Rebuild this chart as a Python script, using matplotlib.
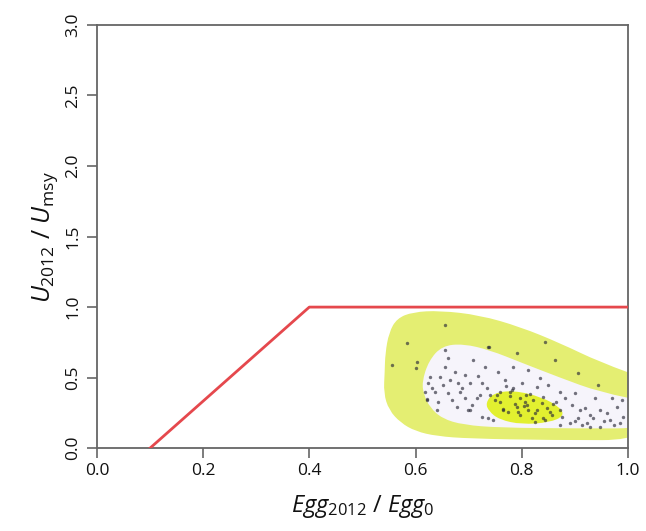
import matplotlib
matplotlib.use("Agg")
import matplotlib.pyplot as plt
from matplotlib.path import Path
from matplotlib.patches import PathPatch

# Harvest control rule (reference line)
hcr_x = [0.1, 0.4, 1.0]
hcr_y = [0.0, 1.0, 1.0]

# Outer contour (yellow band outer edge)
outer_x = [0.542, 0.540, 0.550, 0.572, 0.600, 0.640, 0.702, 0.853, 1.05, 1.05,
           0.947, 0.872, 0.797, 0.721, 0.646, 0.595, 0.565, 0.550, 0.543]
outer_y = [0.54, 0.39, 0.27, 0.18, 0.12, 0.085, 0.068, 0.057, 0.057, 0.47,
           0.61, 0.745, 0.86, 0.943, 0.975, 0.965, 0.92, 0.82, 0.67]

# Middle contour (white region)
mid_x = [0.612, 0.616, 0.627, 0.650, 0.690, 0.760, 0.900, 1.05, 1.05, 0.947,
         0.872, 0.797, 0.740, 0.690, 0.650, 0.625]
mid_y = [0.468, 0.376, 0.290, 0.210, 0.165, 0.145, 0.140, 0.140, 0.32, 0.397,
         0.50, 0.61, 0.695, 0.740, 0.725, 0.620]

# Inner contour (bright core)
core_x = [0.732, 0.746, 0.785, 0.838, 0.872, 0.880, 0.852, 0.800, 0.758, 0.738]
core_y = [0.320, 0.390, 0.410, 0.362, 0.290, 0.228, 0.182, 0.168, 0.202, 0.262]

# posterior draws (pixel positions)
pts_px = [489, 417, 416, 445, 448, 473, 485, 445, 430, 440, 450, 465, 428, 443,
          460, 470, 482, 487, 435, 448, 427, 465, 477, 490, 500, 510, 513, 495,
          482, 488, 493, 457, 472, 438, 517, 545, 555, 578, 598, 513, 528, 522,
          537, 560, 543, 512, 520, 525, 533, 542, 517, 528, 537, 547, 520, 532,
          543, 552, 560, 562, 572, 580, 585, 578, 582, 587, 593, 600, 607, 610,
          617, 623, 570, 560, 600, 590, 622, 445, 407, 488, 392, 427, 497, 500,
          506, 515, 524, 535, 553, 508, 503, 620, 612, 455, 462, 478, 432, 452,
          468, 505, 498, 540, 548, 556, 565, 575, 595, 604, 614, 575, 590, 530,
          518, 527, 550, 545, 535, 526, 510, 503, 480, 470, 458, 437, 425]
pts_py = [347, 362, 368, 350, 358, 360, 367, 367, 377, 377, 380, 375, 383, 385,
          392, 383, 383, 388, 392, 393, 399, 398, 398, 395, 392, 392, 388, 400,
          417, 418, 420, 407, 405, 402, 353, 342, 360, 373, 385, 367, 370, 383,
          387, 392, 397, 390, 398, 402, 400, 403, 407, 410, 410, 408, 415, 418,
          418, 415, 410, 417, 405, 410, 408, 418, 425, 423, 418, 410, 413, 420,
          407, 417, 423, 425, 427, 427, 400, 325, 343, 347, 365, 400, 395, 402,
          386, 404, 406, 413, 404, 412, 409, 423, 398, 372, 388, 376, 388, 400,
          410, 380, 372, 378, 385, 402, 398, 393, 398, 421, 425, 421, 415, 394,
          412, 405, 412, 420, 422, 395, 396, 410, 395, 410, 383, 410, 392]
pts_x = [(p - 97) / 531 for p in pts_px]
pts_y = [(448 - p) / 141 for p in pts_py]


def smooth_path(xs, ys):
    # closed quadratic-bezier path through the edge midpoints
    pts = list(zip(xs, ys))
    n = len(pts)
    mids = [((pts[i][0] + pts[(i + 1) % n][0]) / 2,
             (pts[i][1] + pts[(i + 1) % n][1]) / 2) for i in range(n)]
    verts = [mids[0]]
    codes = [Path.MOVETO]
    for i in range(1, n + 1):
        verts += [pts[i % n], mids[i % n]]
        codes += [Path.CURVE3, Path.CURVE3]
    verts.append(mids[0])
    codes.append(Path.CLOSEPOLY)
    return Path(verts, codes)


plt.rcParams["font.family"] = ["Open Sans", "DejaVu Sans"]
plt.rcParams["mathtext.fontset"] = "custom"
plt.rcParams["mathtext.it"] = "Open Sans:italic"
plt.rcParams["mathtext.rm"] = "Open Sans"

fig = plt.figure(figsize=(6.46, 5.31), dpi=100)
ax = fig.add_axes([0.150, 0.156, 0.822, 0.797])

ax.add_patch(PathPatch(smooth_path(outer_x, outer_y), facecolor="#e4ee72",
                       edgecolor="none", zorder=1))
ax.add_patch(PathPatch(smooth_path(mid_x, mid_y), facecolor="#f6f4fb",
                       edgecolor="none", zorder=2))
ax.add_patch(PathPatch(smooth_path(core_x, core_y), facecolor="#e2f030",
                       edgecolor="none", zorder=3))

ax.scatter(pts_x, pts_y, s=6, color="#2a2a38", alpha=0.65, linewidths=0, zorder=4)
ax.plot(hcr_x, hcr_y, color="#e5484d", lw=2, zorder=5)

ax.set_xlim(0, 1)
ax.set_ylim(0, 3)
ax.set_xticks([0, 0.2, 0.4, 0.6, 0.8, 1.0])
ax.set_yticks([0, 0.5, 1.0, 1.5, 2.0, 2.5, 3.0])
ax.set_xticklabels(["0.0", "0.2", "0.4", "0.6", "0.8", "1.0"])
ax.set_yticklabels(["0.0", "0.5", "1.0", "1.5", "2.0", "2.5", "3.0"],
                   rotation=90, va="center")
for s in ax.spines.values():
    s.set_color("#666666")
    s.set_linewidth(1.3)
ax.tick_params(axis="both", direction="out", length=7, width=1.2,
               color="#666666", labelsize=12.5, labelcolor="#111111", pad=4)

ax.set_xlabel(r"$\mathit{Egg}_{\mathrm{2012}}$ / $\mathit{Egg}_{\mathrm{0}}$",
              fontsize=17, labelpad=10, color="#111111")
ax.set_ylabel(r"$\mathit{U}_{\mathrm{2012}}$ / $\mathit{U}_{\mathrm{msy}}$",
              fontsize=18, labelpad=4, color="#111111")

fig.savefig("out.png", dpi=100)
